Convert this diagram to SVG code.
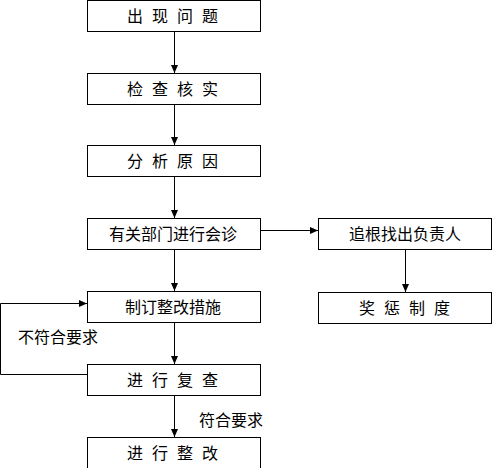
<svg xmlns="http://www.w3.org/2000/svg" width="492" height="468" viewBox="0 0 492 468">
<defs>
<style>
.box{fill:#fff;stroke:#000;stroke-width:1}
.ln{fill:none;stroke:#000;stroke-width:1}
text{font-family:"Noto Sans CJK SC","Noto Sans CJK JP",sans-serif;font-size:16px;fill:#000}
.sp{letter-spacing:9px}
.tg{text-anchor:middle}
</style>
<marker id="ah" viewBox="0 0 8 8" refX="8" refY="4" markerWidth="8" markerHeight="8" markerUnits="userSpaceOnUse" orient="auto">
<path d="M0,0.5 L8,4 L0,7.5 Z" fill="#000"/>
</marker>
</defs>
<rect width="492" height="468" fill="#fff"/>
<g id="connectors">
<line class="ln" x1="174.5" y1="31" x2="174.5" y2="73" marker-end="url(#ah)"/>
<line class="ln" x1="174.5" y1="104" x2="174.5" y2="145" marker-end="url(#ah)"/>
<line class="ln" x1="174.5" y1="176" x2="174.5" y2="218" marker-end="url(#ah)"/>
<line class="ln" x1="174.5" y1="249" x2="174.5" y2="291" marker-end="url(#ah)"/>
<line class="ln" x1="174.5" y1="322" x2="174.5" y2="364" marker-end="url(#ah)"/>
<line class="ln" x1="174.5" y1="395" x2="174.5" y2="437" marker-end="url(#ah)"/>
<line class="ln" x1="260" y1="230.5" x2="318" y2="230.5" marker-end="url(#ah)"/>
<line class="ln" x1="405.5" y1="250" x2="405.5" y2="292" marker-end="url(#ah)"/>
<polyline class="ln" points="87,374.5 0.5,374.5 0.5,303.5 87,303.5" marker-end="url(#ah)"/>
<text x="18" y="343">不符合要求</text>
<text x="199" y="426">符合要求</text>
</g>
<g id="n1"><rect class="box" x="87.5" y="0.5" width="173" height="31"/><text class="sp" x="127" y="22">出现问题</text></g>
<g id="n2"><rect class="box" x="87.5" y="73.5" width="173" height="31"/><text class="sp" x="127" y="95">检查核实</text></g>
<g id="n3"><rect class="box" x="87.5" y="145.5" width="173" height="31"/><text class="sp" x="127" y="167">分析原因</text></g>
<g id="n4"><rect class="box" x="87.5" y="218.5" width="173" height="31"/><text class="tg" x="173" y="240">有关部门进行会诊</text></g>
<g id="n5"><rect class="box" x="87.5" y="291.5" width="173" height="31"/><text class="tg" x="173" y="313">制订整改措施</text></g>
<g id="n6"><rect class="box" x="87.5" y="364.5" width="173" height="31"/><text class="sp" x="127" y="386">进行复查</text></g>
<g id="n7"><rect class="box" x="87.5" y="437.5" width="173" height="31"/><text class="sp" x="127" y="459">进行整改</text></g>
<g id="n8"><rect class="box" x="318.5" y="218.5" width="173" height="31"/><text class="tg" x="405" y="240">追根找出负责人</text></g>
<g id="n9"><rect class="box" x="318.5" y="292.5" width="173" height="31"/><text class="sp" x="359" y="314">奖惩制度</text></g>
</svg>
